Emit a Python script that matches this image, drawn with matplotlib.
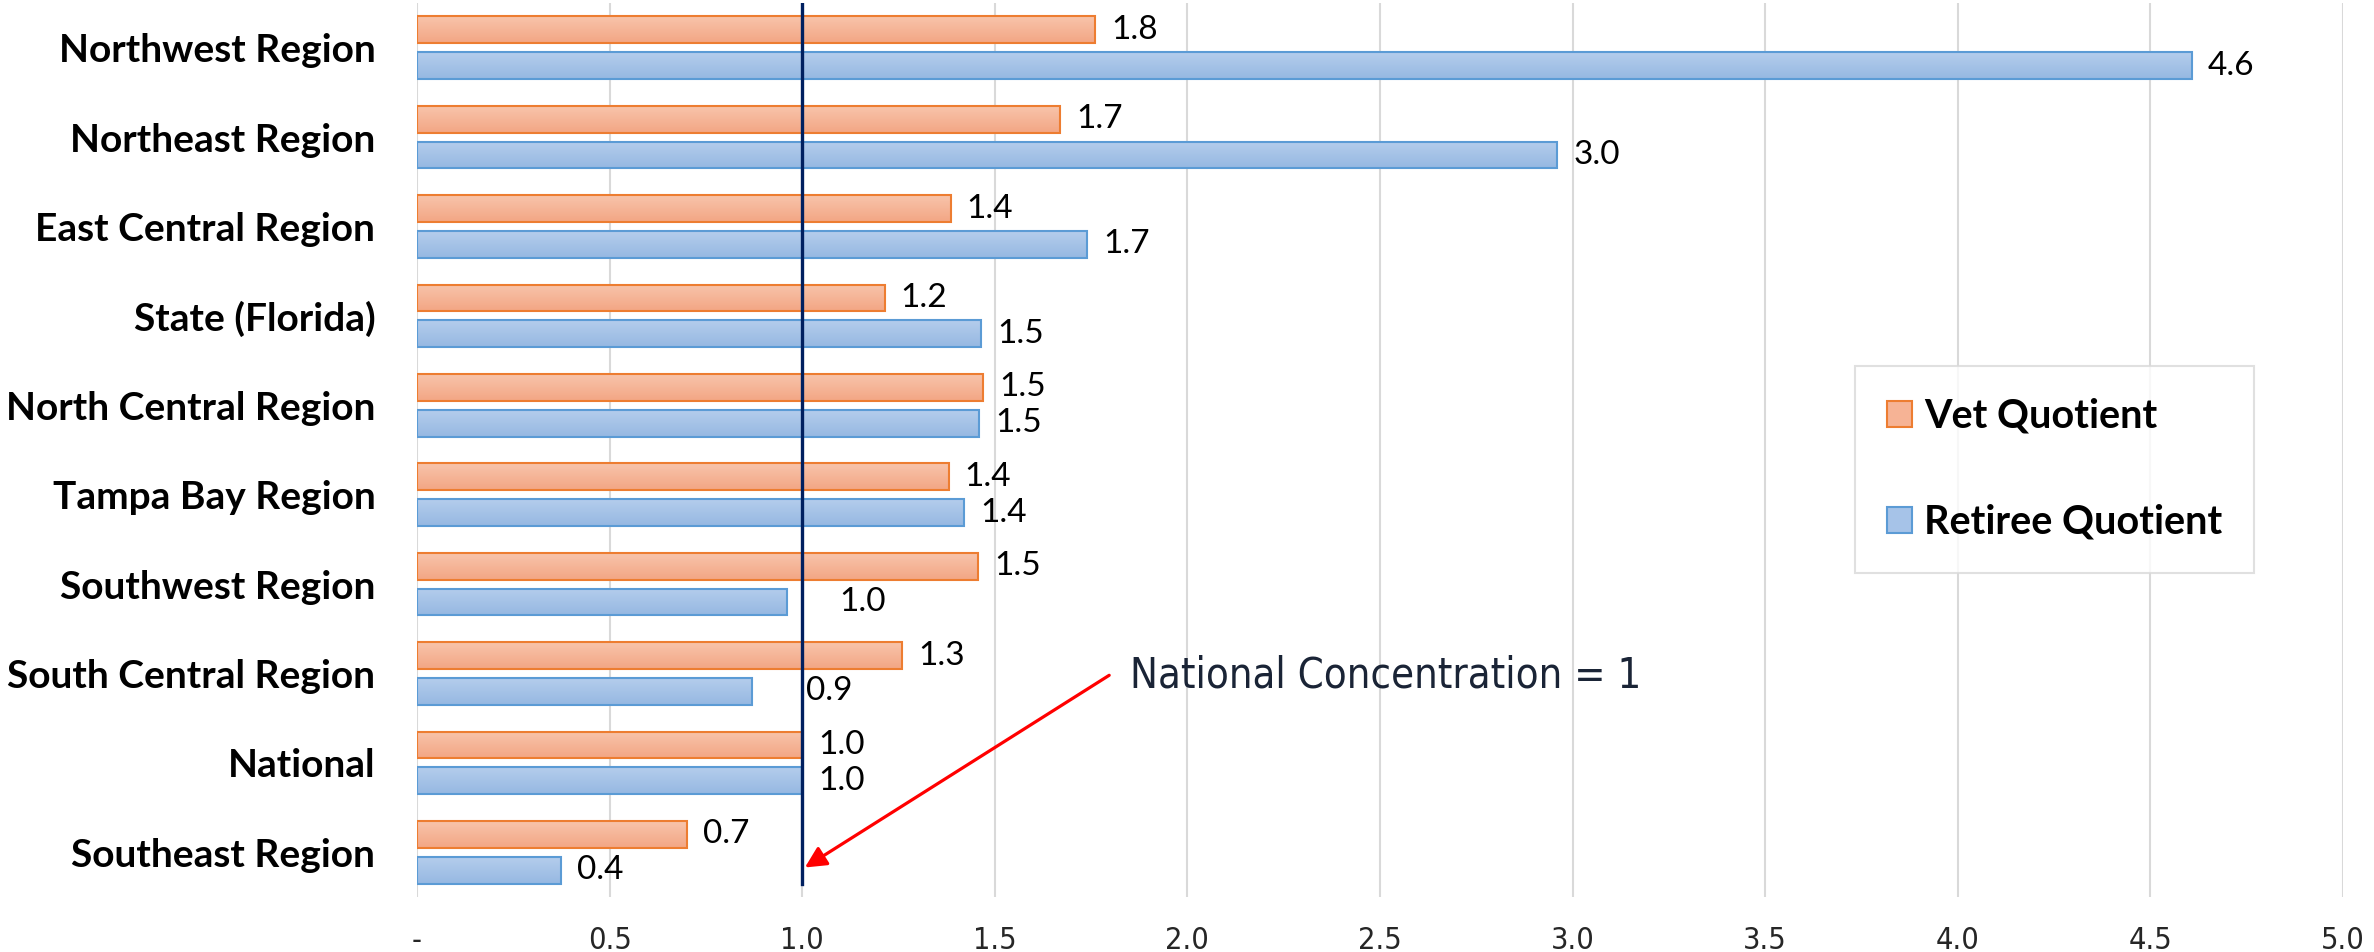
import numpy as np
import matplotlib
matplotlib.use("Agg")
import matplotlib.pyplot as plt
from matplotlib.colors import LinearSegmentedColormap
from matplotlib.patches import Patch

# ---- data ----
categories = ["Northwest Region", "Northeast Region", "East Central Region",
              "State (Florida)", "North Central Region", "Tampa Bay Region",
              "Southwest Region", "South Central Region", "National",
              "Southeast Region"]
vet_quotient = [1.76, 1.67, 1.385, 1.214, 1.47, 1.38, 1.456, 1.26, 1.0, 0.70]
retiree_quotient = [4.607, 2.96, 1.74, 1.465, 1.46, 1.42, 0.96, 0.87, 1.0, 0.375]
xticks = [0, 0.5, 1.0, 1.5, 2.0, 2.5, 3.0, 3.5, 4.0, 4.5, 5.0]
xtick_labels = ["-", "0.5", "1.0", "1.5", "2.0", "2.5", "3.0", "3.5", "4.0", "4.5", "5.0"]
reference_value = 1.0
annotation_text = "National Concentration = 1"

# extra horizontal nudges (points) for manually-moved labels
label_nudge = {("ret", 6): 26, ("ret", 7): 27}

fig = plt.figure(figsize=(23.74, 9.52), dpi=100)
ax = fig.add_axes([417 / 2374, 1 - 897 / 952, (2343 - 417) / 2374, 894 / 952])

y = np.arange(len(categories))
h = 0.30
off = 0.20

series = [
    ("vet", vet_quotient, -off, "#ED7D31", ["#F8C4AB", "#F3A684"]),
    ("ret", retiree_quotient, off, "#5B9BD5", ["#B4CDEC", "#96B8E2"]),
]

grad = np.linspace(0, 1, 64).reshape(-1, 1)
for key, vals, dy, edge, gcols in series:
    cmap = LinearSegmentedColormap.from_list(key, gcols)
    bars = ax.barh(y + dy, vals, height=h, facecolor="none", edgecolor=edge,
                   linewidth=1.5, zorder=3)
    for i, b in enumerate(bars):
        x0, y0 = b.get_xy()
        w, hh = b.get_width(), b.get_height()
        im = ax.imshow(grad, extent=[x0, x0 + w, y0 + hh, y0], origin="upper",
                       aspect="auto", cmap=cmap, zorder=2, interpolation="bilinear")
        im.set_clip_path(b)
        ax.annotate(f"{vals[i]:.1f}", xy=(x0 + w, y[i] + dy),
                    xytext=(11.5 + label_nudge.get((key, i), 0), 0),
                    textcoords="offset points", va="center", ha="left",
                    fontsize=24, family="Lato", color="#000000", zorder=5)

ax.set_xlim(0, 5.0)
ax.set_ylim(len(categories) - 0.5, -0.5)

# gridlines
ax.set_xticks(xticks)
ax.set_xticklabels(xtick_labels, family="DejaVu Sans", fontstretch="condensed",
                   fontsize=22, color="#262626")
ax.xaxis.grid(True, color="#D9D9D9", linewidth=1.5, zorder=0)
ax.set_axisbelow(True)
ax.set_yticks(y)
ax.set_yticklabels(categories, family="Lato", fontweight="bold", fontsize=28,
                   color="#000000")
ax.tick_params(axis="both", length=0)
ax.tick_params(axis="x", pad=21)
ax.tick_params(axis="y", pad=30)
for s in ax.spines.values():
    s.set_visible(False)

# reference line
ax.axvline(reference_value, ymin=0.015, ymax=1.0, color="#002060", linewidth=2.4,
           zorder=4)

# annotation with arrow
ax.annotate("", xy=(1.007, 9.17), xytext=(1.797, 7.02),
            arrowprops=dict(arrowstyle="-|>", color="#FF0000", lw=2.3,
                            mutation_scale=32, shrinkA=0, shrinkB=0), zorder=6)
ax.text(1.851, 7.02, annotation_text, family="DejaVu Sans", fontstretch="condensed",
        fontsize=30, color="#1A2436", va="center", ha="left", zorder=6)

# legend
handles = [Patch(facecolor="#F6B395", edgecolor="#ED7D31", linewidth=1.5,
                 label="Vet Quotient"),
           Patch(facecolor="#A6C3E8", edgecolor="#5B9BD5", linewidth=1.5,
                 label="Retiree Quotient")]
leg = fig.legend(handles=handles, loc="upper left",
                 bbox_to_anchor=(1855 / 2374, 1 - 366 / 952),
                 prop={"family": "Lato", "weight": "bold", "size": 28.5},
                 frameon=True, fancybox=False, edgecolor="#D9D9D9",
                 handlelength=0.65, handleheight=0.65, handletextpad=0.3,
                 labelspacing=1.75, borderpad=0.8, borderaxespad=0)
leg.get_frame().set_linewidth(1.5)

fig.savefig("out.png", dpi=100, facecolor="white")
